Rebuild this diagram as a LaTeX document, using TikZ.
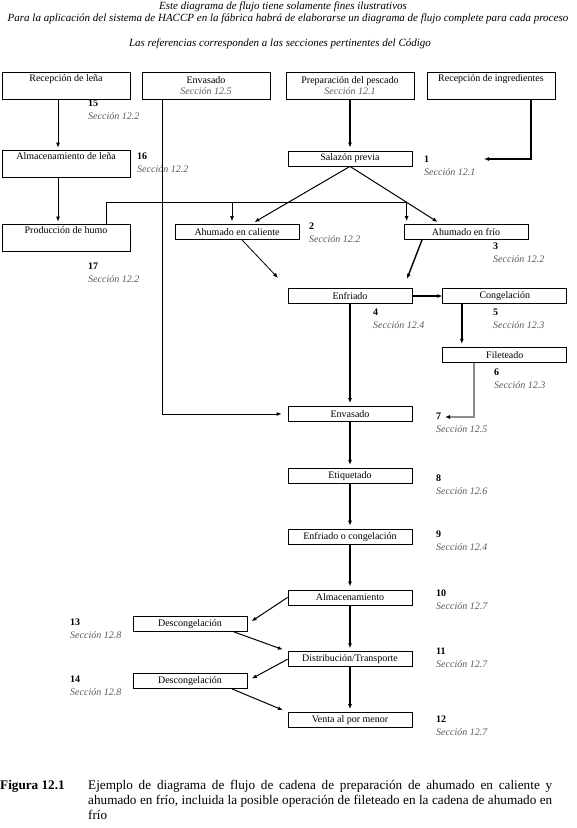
\documentclass[tikz,border=0pt]{standalone}
\usepackage{fontspec}
\setmainfont{Liberation Serif}
\usetikzlibrary{arrows.meta,positioning,calc}
\newcommand{\seccion}[1]{{\itshape\color{black!65}#1}}

\begin{document}
\begin{tikzpicture}[x=1pt,y=-1pt,
  box/.style={draw,line width=0.8pt,minimum width=124pt,minimum height=15pt,inner sep=1pt,font=\fontsize{10}{11}\selectfont},
  topbox/.style={box,minimum width=128pt,minimum height=27pt,inner sep=3pt,align=center},
  upper/.style={text height=6pt,text depth=15pt},
  ref/.style={anchor=north west,align=left,inner sep=0pt,font=\fontsize{10}{13}\selectfont},
  head/.style={inner sep=0pt,font=\fontsize{11}{12}\selectfont\itshape},
  arr/.style={line width=0.8pt,-{Latex[length=5pt,width=4pt]}},
  thickarr/.style={arr,line width=1.4pt}]
  \useasboundingbox (0,0) rectangle (577,828);

  % header
  \node[head] (h1) at (283,7) {Este diagrama de flujo tiene solamente fines ilustrativos};
  \node[head] (h2) at (288,19) {Para la aplicación del sistema de HACCP en la fábrica habrá de elaborarse un diagrama de flujo complete para cada proceso};
  \node[head] (h3) at (280,44) {Las referencias corresponden a las secciones pertinentes del Código};

  % top row
  \node[topbox,upper] (lena) at (66,86) {Recepción de leña};
  \node[topbox] (envtop) at (206,86) {Envasado\\\seccion{Sección 12.5}};
  \node[topbox] (prep) at (350,86) {Preparación del pescado\\\seccion{Sección 12.1}};
  \node[topbox,upper] (ingred) at (491,86) {Recepción de ingredientes};

  % wood and smoke
  \node[topbox,upper] (almlena) at (66,163.5) {Almacenamiento de leña};
  \node[topbox,upper] (humo) at (66,237.5) {Producción de humo};

  % fish line
  \node[box] (salazon) at (350,158.5) {Salazón previa};
  \node[box] (caliente) at (237,232) {Ahumado en caliente};
  \node[box] (frio) at (466,232) {Ahumado en frío};
  \node[box] (enfriado) at (350,296) {Enfriado};
  \node[box,right=30pt of enfriado] (congel) {Congelación};
  \node[box,below=43pt of congel] (filet) {Fileteado};
  \node[box] (envasado) at (350,414) {Envasado};
  \node[box,below=46pt of envasado] (etiq) {Etiquetado};
  \node[box,below=45pt of etiq] (enfcong) {Enfriado o congelación};
  \node[box,below=45pt of enfcong] (almac) {Almacenamiento};
  \node[box,below=46pt of almac] (distrib) {Distribución/Transporte};
  \node[box,below=45pt of distrib] (venta) {Venta al por menor};
  \node[box,minimum width=114pt] (descong1) at (190,624) {Descongelación};
  \node[box,minimum width=114pt] (descong2) at (190,681) {Descongelación};

  % references
  \node[ref] (r15) at (88,100) {\textbf{15}\\\seccion{Sección 12.2}};
  \node[ref] (r16) at (137,153) {\textbf{16}\\\seccion{Sección 12.2}};
  \node[ref] (r17) at (88,263) {\textbf{17}\\\seccion{Sección 12.2}};
  \node[ref] (r1) at (424,156) {\textbf{1}\\\seccion{Sección 12.1}};
  \node[ref] (r2) at (309,223) {\textbf{2}\\\seccion{Sección 12.2}};
  \node[ref] (r3) at (493,243) {\textbf{3}\\\seccion{Sección 12.2}};
  \node[ref] (r4) at (373,309) {\textbf{4}\\\seccion{Sección 12.4}};
  \node[ref] (r5) at (493,309) {\textbf{5}\\\seccion{Sección 12.3}};
  \node[ref] (r6) at (494,369) {\textbf{6}\\\seccion{Sección 12.3}};
  \node[ref] (r7) at (436,413) {\textbf{7}\\\seccion{Sección 12.5}};
  \node[ref] (r8) at (436,475) {\textbf{8}\\\seccion{Sección 12.6}};
  \node[ref] (r9) at (436,531) {\textbf{9}\\\seccion{Sección 12.4}};
  \node[ref] (r10) at (436,590) {\textbf{10}\\\seccion{Sección 12.7}};
  \node[ref] (r11) at (436,648) {\textbf{11}\\\seccion{Sección 12.7}};
  \node[ref] (r12) at (436,716) {\textbf{12}\\\seccion{Sección 12.7}};
  \node[ref] (r13) at (70,619) {\textbf{13}\\\seccion{Sección 12.8}};
  \node[ref] (r14) at (70,676) {\textbf{14}\\\seccion{Sección 12.8}};

  % wood chain
  \draw[arr,shorten >=2pt] ([xshift=-8pt]lena.south) -- ([xshift=-8pt]almlena.north);
  \draw[arr,shorten >=2pt] ([xshift=-8pt]almlena.south) -- ([xshift=-8pt]humo.north);
  \coordinate (bus) at (0,202);
  \coordinate (frioin) at ([xshift=3pt]frio.north west);
  \coordinate (calin) at ([xshift=-5pt]caliente.north);
  \draw[arr,shorten >=3pt] ([xshift=40pt]humo.north) |- (bus -| frioin) -- (frioin);
  \draw[arr,shorten >=3pt] (bus -| calin) -- (calin);

  % packaging feed
  \draw[arr,shorten >=6pt] ([xshift=-44pt]envtop.south) |- (envasado.west);

  % fish
  \draw[thickarr,shorten >=3pt] (prep.south) -- (salazon.north);
  \coordinate (in1) at (484,159);
  \draw[thickarr] ([xshift=40pt]ingred.south) |- (in1);
  \draw[arr,line width=1pt,shorten >=4pt] (salazon.south) -- ([xshift=14pt]caliente.north);
  \draw[arr,line width=1pt,shorten >=4pt] (salazon.south) -- ([xshift=-25pt]frio.north);
  \draw[arr,shorten >=14pt] ([xshift=5pt]caliente.south) -- (enfriado.north west);
  \draw[thickarr,shorten >=10pt] ([xshift=-44pt]frio.south) -- ([xshift=-9pt]enfriado.north east);
  \draw[thickarr] (enfriado.east) -- (congel.west);
  \draw[thickarr,shorten >=3pt] ([xshift=-43pt]congel.south) -- ([xshift=-43pt]filet.north);
  \draw[thickarr,shorten >=3pt] (enfriado.south) -- (envasado.north);
  \coordinate (in7) at (445,417);
  \draw[thickarr,draw=black!45,-{Latex[length=5pt,width=4pt,black]}] ([xshift=-31pt]filet.south) |- (in7);

  % distribution
  \foreach \a/\b in {envasado/etiq,etiq/enfcong,enfcong/almac,almac/distrib,distrib/venta}
    \draw[thickarr,shorten >=3pt] (\a.south) -- (\b.north);
  \draw[arr,line width=1pt,shorten >=5pt] (almac.west) -- (descong1.east);
  \draw[arr,line width=1pt,shorten >=5pt] ([xshift=44pt]descong1.south) -- (distrib.north west);
  \draw[arr,line width=1pt,shorten >=5pt] (distrib.west) -- (descong2.east);
  \draw[arr,line width=1pt,shorten >=5pt] ([xshift=42pt]descong2.south) -- (venta.north west);

  % caption
  \node[anchor=north west,inner sep=0pt,font=\fontsize{13.2}{15}\selectfont\bfseries] (fig) at (0,780) {Figura 12.1};
  \node[anchor=north west,inner sep=0pt,text width=464pt,align=justify,font=\fontsize{13.2}{15}\selectfont] (caption) at (88,780)
    {Ejemplo de diagrama de flujo de cadena de preparación de ahumado en caliente y\linebreak
     ahumado en frío, incluida la posible operación de fileteado en la cadena de ahumado en\linebreak
     frío};
\end{tikzpicture}
\end{document}
